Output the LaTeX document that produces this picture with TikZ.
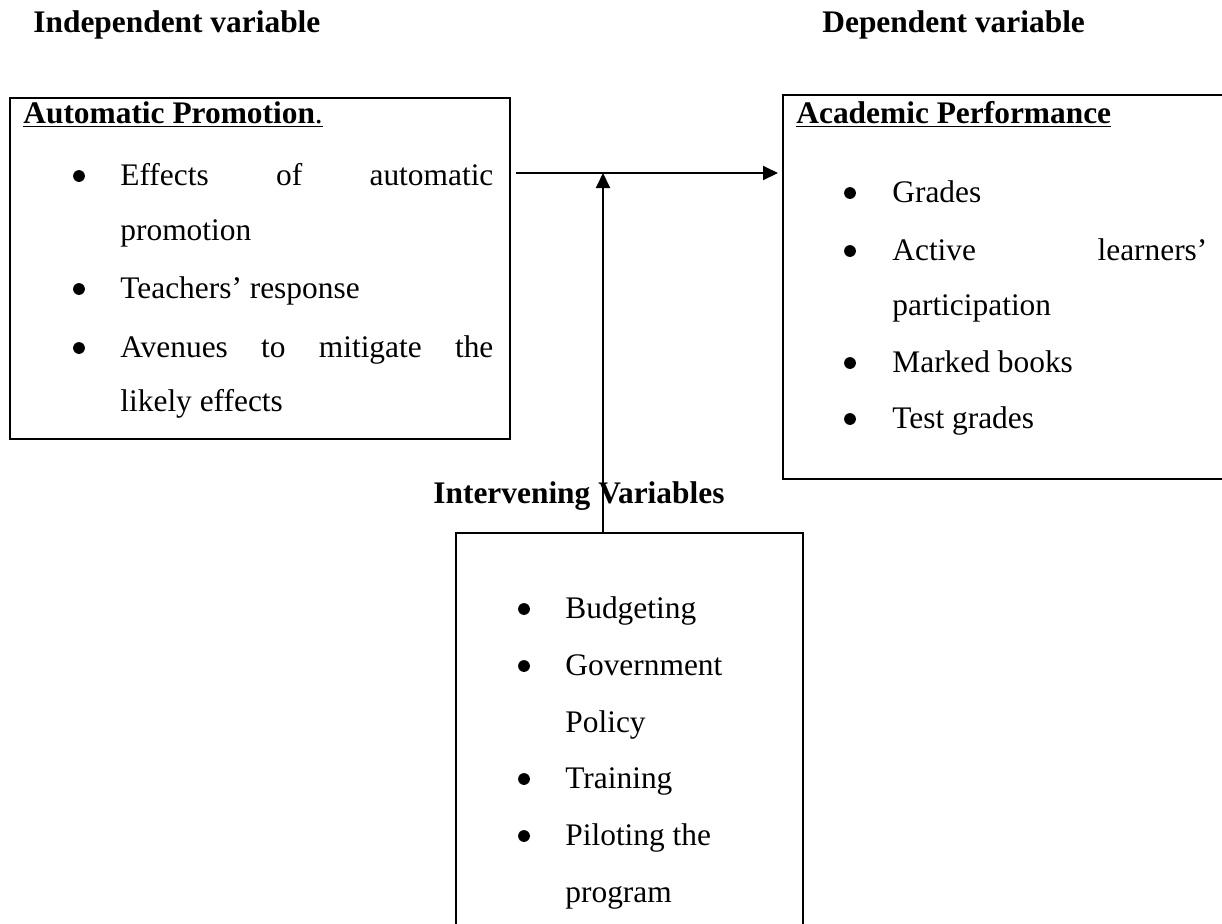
\documentclass[tikz,border=0pt]{standalone}
\usepackage{fontspec}
\setmainfont{Liberation Serif}
\usepackage{tikz}
\usetikzlibrary{arrows.meta}

\begin{document}
\fontsize{15.7pt}{19pt}\selectfont
\begin{tikzpicture}[line cap=rect,line join=miter,x=0.5pt,y=-0.5pt,
	varbox/.style={draw,line width=1pt,rectangle,inner sep=0pt,anchor=north west},
	hdr/.style={anchor=base west,inner sep=0pt,font=\bfseries},
	itm/.style={anchor=base west,inner sep=0pt},
	dot/.style={circle,fill,inner sep=0pt,minimum size=5.9pt},
	arr/.style={line width=1pt,-{Triangle[length=7.5pt,width=7pt]}}]
		\clip (0,0) rectangle (1222,923);
		\node[hdr] (indeptitle) at (33,32) {Independent variable};
		\node[hdr] (deptitle) at (822,32) {Dependent variable};
		\node[varbox,minimum width=250pt,minimum height=170.5pt] (indep) at (9,97) {};
		\node[varbox,minimum width=230pt,minimum height=192pt] (dep) at (782,94) {};
		\node[varbox,minimum width=173.5pt,minimum height=215pt] (interv) at (455,532) {};
		\node[hdr] (intervtitle) at (433,503) {Intervening Variables};
		\coordinate (join) at (603,173);
		\draw[arr,shorten >=2pt] ([xshift=3pt]indep.east |- join) -- (dep.west |- join);
		\draw[arr] (interv.north -| join) -- (join);
		% independent box
		\node[itm] (ap) at (23,123) {\underline{\textbf{Automatic Promotion}.}};
		\node[dot] (b1) at (79,176) {};
		\node[itm] (ap1) at (120,185) {\makebox[186.5pt][s]{Effects of automatic}};
		\node[itm] (ap1b) at (120,240) {promotion};
		\node[dot] (b2) at (79,289) {};
		\node[itm] (ap2) at (120,298) {Teachers’ response};
		\node[dot] (b3) at (79,348) {};
		\node[itm] (ap3) at (120,357) {\makebox[186.5pt][s]{Avenues to mitigate the}};
		\node[itm] (ap3b) at (120,411) {likely effects};
		% dependent box
		\node[itm] (perf) at (796,123) {\underline{\textbf{Academic Performance}}};
		\node[dot] (b4) at (850,193) {};
		\node[itm] (pf1) at (892,202) {Grades};
		\node[dot] (b5) at (850,251) {};
		\node[itm] (pf2) at (892,260) {\makebox[157.5pt][s]{Active learners’}};
		\node[itm] (pf2b) at (892,315) {participation};
		\node[dot] (b6) at (850,363) {};
		\node[itm] (pf3) at (892,372) {Marked books};
		\node[dot] (b7) at (850,419) {};
		\node[itm] (pf4) at (892,428) {Test grades};
		% intervening box
		\node[dot] (b8) at (524,609) {};
		\node[itm] (iv1) at (565,618) {Budgeting};
		\node[dot] (b9) at (524,666) {};
		\node[itm] (iv2) at (565,675) {Government};
		\node[itm] (iv2b) at (565,732) {Policy};
		\node[dot] (b10) at (524,779) {};
		\node[itm] (iv3) at (565,788) {Training};
		\node[dot] (b11) at (524,836) {};
		\node[itm] (iv4) at (565,845) {Piloting the};
		\node[itm] (iv4b) at (565,902) {program};
\end{tikzpicture}
\end{document}
